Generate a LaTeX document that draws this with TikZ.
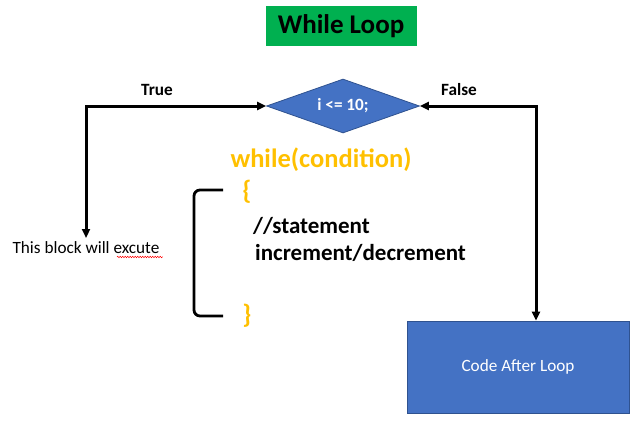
\documentclass[tikz,border=0pt]{standalone}
\usepackage{fontspec}
\setmainfont{Carlito}
\usetikzlibrary{arrows.meta,shapes.geometric,decorations.pathmorphing}
\definecolor{titlegreen}{HTML}{00B050}
\definecolor{shapeblue}{HTML}{4472C4}
\definecolor{shapeedge}{HTML}{2F528F}
\definecolor{codeorange}{HTML}{FFC000}

\begin{document}
\begin{tikzpicture}[x=1pt, y=-1pt, >={Triangle[length=9pt, width=8pt]},
  flowline/.style={line width=3pt, <->},
  smalltext/.style={font=\fontsize{17.2}{20}\selectfont},
  boldsmall/.style={font=\fontsize{17.2}{20}\selectfont\bfseries},
  bluebox/.style={fill=shapeblue, draw=shapeedge, line width=0.8pt, text=white},
  codetext/.style={font=\fontsize{23}{27}\selectfont\bfseries, inner sep=0pt},
  bracetext/.style={font=\fontsize{26.5}{30}\selectfont\bfseries, text=codeorange, inner sep=0pt}]
\useasboundingbox (0,0) rectangle (644,426);

% --- Title ---
\node[fill=titlegreen, minimum width=151pt, minimum height=40pt, font=\fontsize{27}{31}\selectfont\bfseries] (title) at (341,26) {While Loop};

% --- Condition and the two exits ---
\node[diamond, aspect=2.8, bluebox, minimum width=153pt, minimum height=54pt, inner sep=0pt, boldsmall] (cond) at (343,106) {i <= 10;};
\node[bluebox, minimum width=222pt, minimum height=92pt, smalltext] (after) at (518,367) {Code After Loop};
\node[smalltext, anchor=north] (block) at (86,238) {This block will excute};
\coordinate (afterin) at ([xshift=18pt]after.north);

\draw[flowline] (block.north) |- (cond.west);
\draw[flowline] (cond.east) -| (afterin);
\node[boldsmall] (truelbl) at (157,90) {True};
\node[boldsmall] (falselbl) at (459,90) {False};

% spell-check squiggle
\draw[red, line width=0.5pt, decorate, decoration={snake, amplitude=0.7pt, segment length=2.5pt}]
  ([xshift=-46pt, yshift=-3.5pt]block.base east) -- ([yshift=-3.5pt]block.base east);

% --- Loop body ---
\node[bracetext] (header) at (321,160) {while(condition)};
\node[bracetext] (lbrace) at (247,192) {\{};
\node[bracetext] (rbrace) at (247,316) {\}};
\node[codetext, anchor=west] (stmt) at (253,226) {//statement};
\node[codetext, anchor=west] (incr) at (255,253) {increment/decrement};
\draw[line width=2.8pt, rounded corners=6pt] (223,190) -| (194,316) -- (223,316);

\end{tikzpicture}
\end{document}
